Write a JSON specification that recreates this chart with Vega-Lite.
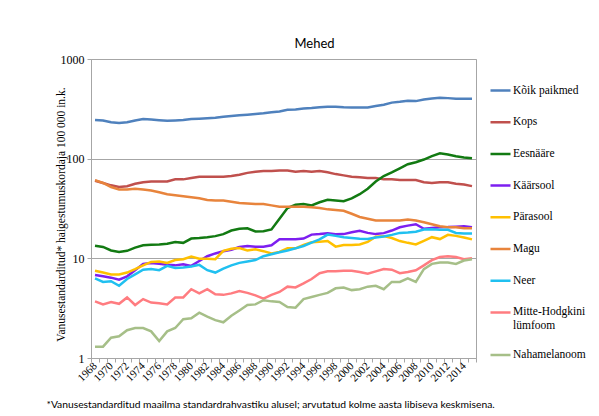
{
  "$schema": "https://vega.github.io/schema/vega-lite/v6.json",
  "width": 385,
  "height": 299,
  "autosize": {"type": "none"},
  "padding": {"left": 91, "top": 59, "right": 123, "bottom": 58},
  "background": "white",
  "config": {
    "view": {"stroke": "#a6a6a6", "strokeWidth": 1},
    "axis": {"domainColor": "#a6a6a6", "tickColor": "#a6a6a6", "labelColor": "#000000", "labelFont": "Liberation Serif, Times New Roman, serif"}
  },
  "title": {"text": "Mehed", "font": "Lato", "fontSize": 13, "fontWeight": "normal", "color": "#000000", "offset": 2, "dx": 31},
  "data": {"values": [
    {"year":1968,"Kõik paikmed":245,"Kops":60,"Eesnääre":13.4,"Käärsool":6.8,"Pärasool":7.5,"Magu":61,"Neer":6.3,"Mitte-Hodgkini lümfoom":3.7,"Nahamelanoom":1.3},
    {"year":1969,"Kõik paikmed":242,"Kops":57,"Eesnääre":13.0,"Käärsool":6.6,"Pärasool":7.2,"Magu":57,"Neer":5.8,"Mitte-Hodgkini lümfoom":3.45,"Nahamelanoom":1.3},
    {"year":1970,"Kõik paikmed":232,"Kops":54,"Eesnääre":12.0,"Käärsool":6.4,"Pärasool":6.9,"Magu":52,"Neer":5.9,"Mitte-Hodgkini lümfoom":3.65,"Nahamelanoom":1.6},
    {"year":1971,"Kõik paikmed":228,"Kops":52,"Eesnääre":11.6,"Käärsool":6.1,"Pärasool":6.9,"Magu":49,"Neer":5.3,"Mitte-Hodgkini lümfoom":3.5,"Nahamelanoom":1.65},
    {"year":1972,"Kõik paikmed":232,"Kops":53,"Eesnääre":11.9,"Käärsool":6.6,"Pärasool":7.2,"Magu":49,"Neer":6.2,"Mitte-Hodgkini lümfoom":4.05,"Nahamelanoom":1.9},
    {"year":1973,"Kõik paikmed":242,"Kops":56,"Eesnääre":12.8,"Käärsool":7.6,"Pärasool":7.8,"Magu":50,"Neer":6.9,"Mitte-Hodgkini lümfoom":3.4,"Nahamelanoom":2.0},
    {"year":1974,"Kõik paikmed":250,"Kops":58,"Eesnääre":13.5,"Käärsool":8.8,"Pärasool":8.5,"Magu":49,"Neer":7.7,"Mitte-Hodgkini lümfoom":3.9,"Nahamelanoom":2.0},
    {"year":1975,"Kõik paikmed":247,"Kops":59,"Eesnääre":13.7,"Käärsool":9.0,"Pärasool":9.2,"Magu":48,"Neer":7.8,"Mitte-Hodgkini lümfoom":3.6,"Nahamelanoom":1.85},
    {"year":1976,"Kõik paikmed":243,"Kops":59,"Eesnääre":13.8,"Käärsool":8.8,"Pärasool":9.3,"Magu":46,"Neer":7.6,"Mitte-Hodgkini lümfoom":3.55,"Nahamelanoom":1.48},
    {"year":1977,"Kõik paikmed":240,"Kops":59,"Eesnääre":14.0,"Käärsool":8.6,"Pärasool":9.0,"Magu":44,"Neer":8.4,"Mitte-Hodgkini lümfoom":3.45,"Nahamelanoom":1.85},
    {"year":1978,"Kõik paikmed":242,"Kops":62,"Eesnääre":14.6,"Käärsool":8.5,"Pärasool":9.6,"Magu":43,"Neer":8.0,"Mitte-Hodgkini lümfoom":4.05,"Nahamelanoom":2.0},
    {"year":1979,"Kõik paikmed":244,"Kops":62,"Eesnääre":14.3,"Käärsool":8.7,"Pärasool":9.8,"Magu":42,"Neer":8.1,"Mitte-Hodgkini lümfoom":4.05,"Nahamelanoom":2.45},
    {"year":1980,"Kõik paikmed":250,"Kops":64,"Eesnääre":15.8,"Käärsool":8.4,"Pärasool":10.4,"Magu":41,"Neer":8.3,"Mitte-Hodgkini lümfoom":4.9,"Nahamelanoom":2.5},
    {"year":1981,"Kõik paikmed":252,"Kops":66,"Eesnääre":16.0,"Käärsool":9.4,"Pärasool":9.9,"Magu":40,"Neer":8.6,"Mitte-Hodgkini lümfoom":4.45,"Nahamelanoom":2.85},
    {"year":1982,"Kõik paikmed":255,"Kops":66,"Eesnääre":16.3,"Käärsool":10.5,"Pärasool":9.9,"Magu":38.5,"Neer":7.6,"Mitte-Hodgkini lümfoom":4.9,"Nahamelanoom":2.6},
    {"year":1983,"Kõik paikmed":258,"Kops":66,"Eesnääre":16.7,"Käärsool":11.2,"Pärasool":9.8,"Magu":38,"Neer":7.2,"Mitte-Hodgkini lümfoom":4.35,"Nahamelanoom":2.4},
    {"year":1984,"Kõik paikmed":264,"Kops":66,"Eesnääre":17.5,"Käärsool":11.8,"Pärasool":11.9,"Magu":38,"Neer":7.9,"Mitte-Hodgkini lümfoom":4.3,"Nahamelanoom":2.28},
    {"year":1985,"Kõik paikmed":268,"Kops":67,"Eesnääre":19.0,"Käärsool":12.2,"Pärasool":12.5,"Magu":37,"Neer":8.5,"Mitte-Hodgkini lümfoom":4.45,"Nahamelanoom":2.65},
    {"year":1986,"Kõik paikmed":272,"Kops":69,"Eesnääre":19.8,"Käärsool":13.0,"Pärasool":12.7,"Magu":36,"Neer":9.0,"Mitte-Hodgkini lümfoom":4.7,"Nahamelanoom":3.0},
    {"year":1987,"Kõik paikmed":276,"Kops":72,"Eesnääre":20.0,"Käärsool":13.3,"Pärasool":12.0,"Magu":35.5,"Neer":9.3,"Mitte-Hodgkini lümfoom":4.5,"Nahamelanoom":3.4},
    {"year":1988,"Kõik paikmed":280,"Kops":74,"Eesnääre":18.6,"Käärsool":13.1,"Pärasool":12.3,"Magu":35,"Neer":9.6,"Mitte-Hodgkini lümfoom":4.25,"Nahamelanoom":3.45},
    {"year":1989,"Kõik paikmed":285,"Kops":75,"Eesnääre":18.7,"Käärsool":13.1,"Pärasool":11.8,"Magu":35,"Neer":10.5,"Mitte-Hodgkini lümfoom":3.95,"Nahamelanoom":3.8},
    {"year":1990,"Kõik paikmed":292,"Kops":75,"Eesnääre":19.5,"Käärsool":13.5,"Pärasool":11.2,"Magu":34,"Neer":11.0,"Mitte-Hodgkini lümfoom":4.3,"Nahamelanoom":3.7},
    {"year":1991,"Kõik paikmed":298,"Kops":76,"Eesnääre":25,"Käärsool":15.5,"Pärasool":11.6,"Magu":33,"Neer":11.5,"Mitte-Hodgkini lümfoom":4.6,"Nahamelanoom":3.65},
    {"year":1992,"Kõik paikmed":310,"Kops":76,"Eesnääre":32,"Käärsool":15.5,"Pärasool":12.6,"Magu":33,"Neer":12.0,"Mitte-Hodgkini lümfoom":5.2,"Nahamelanoom":3.25},
    {"year":1993,"Kõik paikmed":312,"Kops":74,"Eesnääre":34.5,"Käärsool":15.5,"Pärasool":12.6,"Magu":33,"Neer":12.6,"Mitte-Hodgkini lümfoom":5.1,"Nahamelanoom":3.2},
    {"year":1994,"Kõik paikmed":318,"Kops":75,"Eesnääre":35,"Käärsool":15.8,"Pärasool":13.6,"Magu":33,"Neer":13.3,"Mitte-Hodgkini lümfoom":5.6,"Nahamelanoom":3.9},
    {"year":1995,"Kõik paikmed":322,"Kops":74,"Eesnääre":34,"Käärsool":17.3,"Pärasool":14.5,"Magu":32.5,"Neer":14.4,"Mitte-Hodgkini lümfoom":6.2,"Nahamelanoom":4.1},
    {"year":1996,"Kõik paikmed":328,"Kops":75,"Eesnääre":36.5,"Käärsool":17.5,"Pärasool":14.7,"Magu":32,"Neer":15.5,"Mitte-Hodgkini lümfoom":7.1,"Nahamelanoom":4.3},
    {"year":1997,"Kõik paikmed":332,"Kops":73,"Eesnääre":38.6,"Käärsool":17.8,"Pärasool":14.9,"Magu":31,"Neer":17.3,"Mitte-Hodgkini lümfoom":7.4,"Nahamelanoom":4.5},
    {"year":1998,"Kõik paikmed":332,"Kops":70,"Eesnääre":38,"Käärsool":17.4,"Pärasool":13.1,"Magu":30.5,"Neer":16.8,"Mitte-Hodgkini lümfoom":7.4,"Nahamelanoom":5.0},
    {"year":1999,"Kõik paikmed":328,"Kops":68,"Eesnääre":37.5,"Käärsool":17.5,"Pärasool":13.6,"Magu":30,"Neer":16.3,"Mitte-Hodgkini lümfoom":7.5,"Nahamelanoom":5.1},
    {"year":2000,"Kõik paikmed":326,"Kops":66,"Eesnääre":40,"Käärsool":18.3,"Pärasool":13.6,"Magu":28,"Neer":16.0,"Mitte-Hodgkini lümfoom":7.5,"Nahamelanoom":4.8},
    {"year":2001,"Kõik paikmed":326,"Kops":65,"Eesnääre":44,"Käärsool":18.9,"Pärasool":13.8,"Magu":26,"Neer":15.7,"Mitte-Hodgkini lümfoom":7.3,"Nahamelanoom":4.9},
    {"year":2002,"Kõik paikmed":326,"Kops":64,"Eesnääre":50,"Käärsool":18.0,"Pärasool":14.6,"Magu":25,"Neer":15.6,"Mitte-Hodgkini lümfoom":7.0,"Nahamelanoom":5.2},
    {"year":2003,"Kõik paikmed":338,"Kops":64,"Eesnääre":59,"Käärsool":17.5,"Pärasool":16.5,"Magu":24,"Neer":16.2,"Mitte-Hodgkini lümfoom":7.4,"Nahamelanoom":5.3},
    {"year":2004,"Kõik paikmed":348,"Kops":62,"Eesnääre":67,"Käärsool":17.9,"Pärasool":16.7,"Magu":24,"Neer":16.6,"Mitte-Hodgkini lümfoom":7.8,"Nahamelanoom":4.9},
    {"year":2005,"Kõik paikmed":365,"Kops":62,"Eesnääre":73,"Käärsool":19.0,"Pärasool":16.0,"Magu":24,"Neer":17.2,"Mitte-Hodgkini lümfoom":7.7,"Nahamelanoom":5.8},
    {"year":2006,"Kõik paikmed":372,"Kops":61,"Eesnääre":80,"Käärsool":20.5,"Pärasool":14.9,"Magu":24,"Neer":18.0,"Mitte-Hodgkini lümfoom":7.1,"Nahamelanoom":5.8},
    {"year":2007,"Kõik paikmed":382,"Kops":61,"Eesnääre":88,"Käärsool":21.3,"Pärasool":14.3,"Magu":24.5,"Neer":18.2,"Mitte-Hodgkini lümfoom":7.3,"Nahamelanoom":6.3},
    {"year":2008,"Kõik paikmed":378,"Kops":61,"Eesnääre":92,"Käärsool":22.0,"Pärasool":13.8,"Magu":24,"Neer":18.5,"Mitte-Hodgkini lümfoom":7.6,"Nahamelanoom":5.8},
    {"year":2009,"Kõik paikmed":392,"Kops":58,"Eesnääre":98,"Käärsool":19.8,"Pärasool":15.0,"Magu":23,"Neer":19.5,"Mitte-Hodgkini lümfoom":8.5,"Nahamelanoom":7.8},
    {"year":2010,"Kõik paikmed":402,"Kops":57,"Eesnääre":106,"Käärsool":20.2,"Pärasool":16.3,"Magu":22,"Neer":19.6,"Mitte-Hodgkini lümfoom":9.6,"Nahamelanoom":8.8},
    {"year":2011,"Kõik paikmed":408,"Kops":58,"Eesnääre":113,"Käärsool":20.5,"Pärasool":15.6,"Magu":21,"Neer":19.3,"Mitte-Hodgkini lümfoom":10.3,"Nahamelanoom":9.1},
    {"year":2012,"Kõik paikmed":405,"Kops":58,"Eesnääre":110,"Käärsool":20.6,"Pärasool":17.2,"Magu":20.5,"Neer":19.3,"Mitte-Hodgkini lümfoom":10.5,"Nahamelanoom":9.1},
    {"year":2013,"Kõik paikmed":400,"Kops":56,"Eesnääre":106,"Käärsool":20.8,"Pärasool":16.8,"Magu":20.5,"Neer":18.0,"Mitte-Hodgkini lümfoom":10.3,"Nahamelanoom":8.8},
    {"year":2014,"Kõik paikmed":400,"Kops":55,"Eesnääre":103,"Käärsool":21,"Pärasool":16.2,"Magu":20,"Neer":17.8,"Mitte-Hodgkini lümfoom":9.8,"Nahamelanoom":9.5},
    {"year":2015,"Kõik paikmed":400,"Kops":53,"Eesnääre":101,"Käärsool":20.5,"Pärasool":15.5,"Magu":20,"Neer":17.8,"Mitte-Hodgkini lümfoom":10.0,"Nahamelanoom":9.8}
  ]},
  "transform": [
    {"fold": ["Kõik paikmed","Kops","Eesnääre","Käärsool","Pärasool","Magu","Neer","Mitte-Hodgkini lümfoom","Nahamelanoom"], "as": ["s","v"]}
  ],
  "resolve": {"axis": {"x": "independent"}},
  "layer": [
    {
      "mark": {"type": "line", "strokeWidth": 2.5},
      "encoding": {
        "x": {"field": "year", "type": "quantitative",
          "scale": {"domain": [1967.5, 2015.5], "nice": false, "zero": false},
          "axis": {"orient": "bottom", "values": [1967.5,1968.5,1969.5,1970.5,1971.5,1972.5,1973.5,1974.5,1975.5,1976.5,1977.5,1978.5,1979.5,1980.5,1981.5,1982.5,1983.5,1984.5,1985.5,1986.5,1987.5,1988.5,1989.5,1990.5,1991.5,1992.5,1993.5,1994.5,1995.5,1996.5,1997.5,1998.5,1999.5,2000.5,2001.5,2002.5,2003.5,2004.5,2005.5,2006.5,2007.5,2008.5,2009.5,2010.5,2011.5,2012.5,2013.5,2014.5,2015.5],
            "labels": false, "ticks": true, "tickSize": 4, "grid": false, "domain": true, "title": null}},
        "y": {"field": "v", "type": "quantitative",
          "scale": {"type": "log", "domain": [1, 1000], "nice": false},
          "axis": {"values": [1, 10, 100, 1000], "format": "d", "grid": true, "gridColor": "#a6a6a6", "tickSize": 4, "labelPadding": 3, "labelFontSize": 12,
            "title": "Vanusestandarditud* haigestumuskordaja 100 000 in.k.", "titleFont": "Liberation Serif, Times New Roman, serif", "titleFontSize": 11.5, "titleFontWeight": "normal", "titleColor": "#000000",
            "titleX": -30, "titleY": 155, "titleAngle": -90, "titleAlign": "center", "titleBaseline": "middle"}},
        "color": {"field": "s", "type": "nominal",
          "scale": {"domain": ["Kõik paikmed","Kops","Eesnääre","Käärsool","Pärasool","Magu","Neer","Mitte-Hodgkini lümfoom","Nahamelanoom"],
            "range": ["#4f81bd","#c0504d","#127a12","#7d1ff0","#ffc000","#e8843c","#20c0f0","#ff7c80","#a6bf88"]},
          "legend": {"title": null, "orient": "none", "legendX": 398, "legendY": 23, "symbolType": "stroke", "symbolSize": 400, "symbolStrokeWidth": 2.5,
            "labelFont": "Liberation Serif, Times New Roman, serif", "labelFontSize": 11.5, "labelColor": "#000000", "labelOffset": 1, "rowPadding": 14.7, "clipHeight": 17,
            "labelExpr": "datum.label == 'Mitte-Hodgkini lümfoom' ? ['Mitte-Hodgkini', 'lümfoom'] : datum.label"}}
      }
    },
    {
      "mark": {"type": "point", "opacity": 0},
      "encoding": {
        "x": {"field": "year", "type": "quantitative",
          "axis": {"orient": "bottom", "values": [1968,1970,1972,1974,1976,1978,1980,1982,1984,1986,1988,1990,1992,1994,1996,1998,2000,2002,2004,2006,2008,2010,2012,2014],
            "format": "d", "ticks": false, "domain": false, "grid": false, "labelOverlap": false, "labelAngle": -45, "labelAlign": "right", "labelBaseline": "middle", "labelPadding": 6, "labelFontSize": 11,
            "title": "*Vanusestandarditud maailma standardrahvastiku alusel; arvutatud kolme aasta libiseva keskmisena.",
            "titleFont": "Lato", "titleFontSize": 10.3, "titleFontWeight": "normal", "titleColor": "#000000",
            "titleAnchor": "start", "titleAlign": "left", "titleX": -45, "titleY": 46, "titleBaseline": "middle"}},
        "y": {"field": "v", "type": "quantitative"}
      }
    }
  ]
}
